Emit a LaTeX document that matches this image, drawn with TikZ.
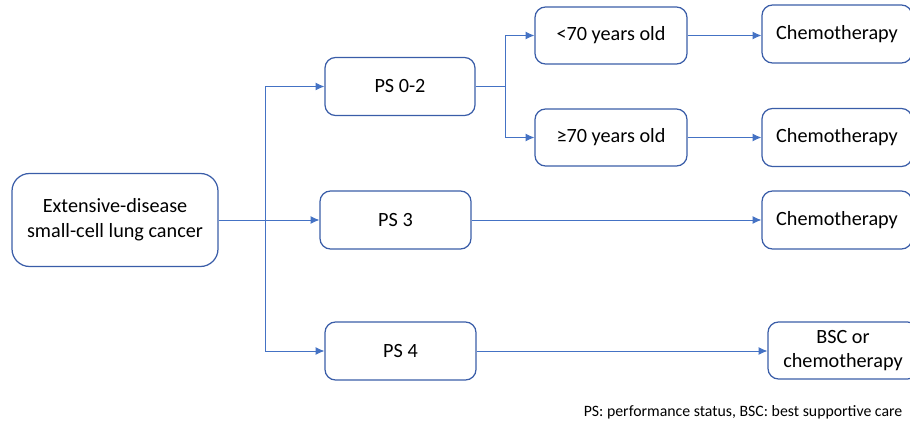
\documentclass[tikz,border=0pt]{standalone}
\usepackage{fontspec}
\setmainfont{Carlito}
\usetikzlibrary{arrows.meta}
\definecolor{lineblue}{HTML}{4472C4}
\definecolor{boxblue}{HTML}{3A5DA8}
\begin{document}
\begin{tikzpicture}[font=\fontsize{11.5}{14}\selectfont]
			\tikzstyle{box}=[draw=boxblue, line width=0.7pt, rounded corners=6pt, align=center, minimum width=3cm, minimum height=1.16cm, inner sep=2pt]
			\tikzstyle{arr}=[draw=lineblue, line width=0.5pt, -{Latex[length=5pt,width=4.5pt]}]
			\tikzstyle{ln}=[draw=lineblue, line width=0.5pt]
			
			\useasboundingbox (0,0) rectangle (18.2,-8.46);
			
			\draw node at (2.3, -4.4) [box, minimum width=4.12cm, minimum height=1.86cm, rounded corners=10pt] (ed) {Extensive-disease\\small-cell lung cancer};
			
			\draw node at (8.0, -1.73) [box] (ps02) {PS 0-2};
			\draw node at (7.91, -4.4) [box, minimum width=3.02cm] (ps3) {PS 3};
			\draw node at (8.01, -7.02) [box, minimum width=3.02cm] (ps4) {PS 4};
			
			\draw node at (12.22, -0.71) [box, minimum width=3.04cm, minimum height=1.14cm] (young) {<70 years old};
			\draw node at (12.22, -2.75) [box, minimum width=3.04cm, minimum height=1.14cm] (old) {≥70 years old};
			
			\draw node at (16.74, -0.68) [box] (chemo1) {Chemotherapy};
			\draw node at (16.74, -2.75) [box] (chemo2) {Chemotherapy};
			\draw node at (16.74, -4.4) [box] (chemo3) {Chemotherapy};
			\draw node at (16.86, -7.01) [box, minimum height=1.14cm] (bsc) {BSC or\\chemotherapy};
			
			\coordinate (fork) at (5.3, -4.4);
			\coordinate (fork2) at (10.1, -1.73);
			
			\draw [arr] (ed.east) -- (ps3.west);
			\draw [arr] (fork) |- (ps02.west);
			\draw [arr] (fork) |- (ps4.west);
			
			\draw [ln]  (ps02.east) -- (fork2);
			\draw [arr] (fork2) |- (young.west);
			\draw [arr] (fork2) |- (old.west);
			
			\draw [arr] (young.east) -- (chemo1.west |- young.east);
			\draw [arr] (old.east) -- (chemo2.west);
			\draw [arr] (ps3.east) -- (chemo3.west);
			\draw [arr] (ps4.east) -- (bsc.west |- ps4.east);
			
			\node at (18.17, -8.24) [anchor=east, font=\fontsize{9}{11}\selectfont] (note) {PS: performance status, BSC: best supportive care};
		\end{tikzpicture}
\end{document}
